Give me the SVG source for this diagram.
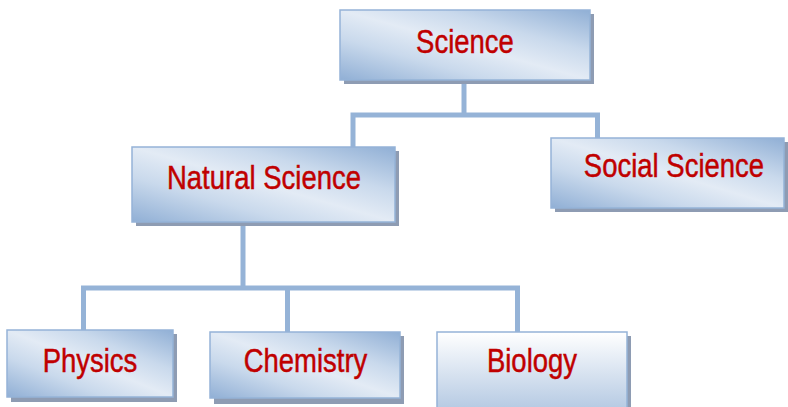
<svg xmlns="http://www.w3.org/2000/svg" width="788" height="407" viewBox="0 0 788 407">
<style>
.sh{fill:#8e9cb3}
.bx{stroke:#95b3d7;stroke-width:1.5}
.g{fill:url(#diag)}
.v{fill:url(#vert)}
.t{font-family:"Liberation Sans",Arial,sans-serif;font-size:27.5px;fill:#c00000;stroke:#c00000;stroke-width:0.4;text-anchor:middle}
.c{fill:none;stroke:#95b3d7;stroke-width:5}
</style>
<defs>
<linearGradient id="diag" x1="1" y1="0" x2="0" y2="1">
<stop offset="0" stop-color="#90afd5"/>
<stop offset="0.3" stop-color="#c9d9ec"/>
<stop offset="0.5" stop-color="#e3ebf5"/>
<stop offset="0.7" stop-color="#c9d9ec"/>
<stop offset="1" stop-color="#90afd5"/>
</linearGradient>
<linearGradient id="vert" x1="0" y1="0" x2="0" y2="1">
<stop offset="0" stop-color="#ffffff"/>
<stop offset="1" stop-color="#b3c8e2"/>
</linearGradient>
</defs>
<g id="connectors">
<polyline class="c" points="464,80 464,115"/>
<polyline class="c" points="353,147 353,115 597.5,115 597.5,138"/>
<polyline class="c" points="243,222 243,288"/>
<polyline class="c" points="83.5,330 83.5,288 517.5,288 517.5,332"/>
<polyline class="c" points="287.5,288 287.5,332"/>
</g>
<g id="science">
<rect class="sh" x="344" y="14" width="250" height="70"/>
<rect class="bx g" x="340" y="10" width="250" height="70"/>
<text class="t" transform="translate(465,52.5) scale(1,1.18)">Science</text>
</g>
<g id="natural">
<rect class="sh" x="136" y="151" width="263" height="75"/>
<rect class="bx g" x="132" y="147" width="263" height="75"/>
<text class="t" transform="translate(264,189) scale(1,1.18)">Natural Science</text>
</g>
<g id="social">
<rect class="sh" x="555" y="142" width="235" height="70"/>
<rect class="bx g" x="551" y="138" width="233" height="70"/>
<text class="t" transform="translate(674,176.5) scale(1,1.18)">Social Science</text>
</g>
<g id="physics">
<rect class="sh" x="11" y="334" width="166" height="68"/>
<rect class="bx g" x="7" y="330" width="166" height="67"/>
<text class="t" transform="translate(90,371.5) scale(1,1.18)">Physics</text>
</g>
<g id="chemistry">
<rect class="sh" x="214" y="336" width="190" height="68"/>
<rect class="bx g" x="210" y="332" width="190" height="66"/>
<text class="t" transform="translate(305.5,372) scale(1,1.18)">Chemistry</text>
</g>
<g id="biology">
<rect class="sh" x="441" y="336" width="190" height="80"/>
<rect class="bx v" x="437" y="332" width="190" height="80"/>
<text class="t" transform="translate(532,371.5) scale(1,1.18)">Biology</text>
</g>
</svg>
